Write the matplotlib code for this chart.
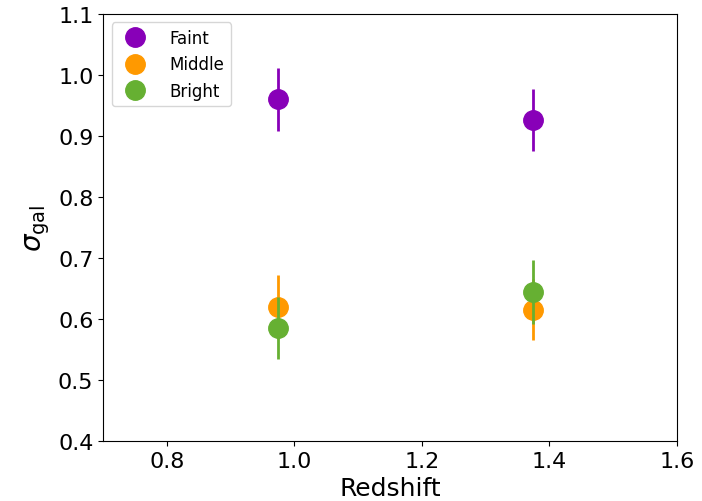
import matplotlib
matplotlib.use("Agg")
import matplotlib.pyplot as plt

redshift = [0.975, 1.375]
faint = [0.96, 0.926]
faint_err = [0.051, 0.051]
middle = [0.62, 0.615]
middle_err = [0.052, 0.05]
bright = [0.585, 0.644]
bright_err = [0.051, 0.052]

series = [
    ("Faint", faint, faint_err, "#8800b8"),
    ("Middle", middle, middle_err, "#ff9900"),
    ("Bright", bright, bright_err, "#66b032"),
]

fig = plt.figure(figsize=(7.02, 5.02), dpi=100)
ax = fig.add_axes([0.147, 0.1195, 0.817, 0.8505])

for name, vals, errs, col in series:
    ax.errorbar(redshift, vals, yerr=errs, fmt="none", ecolor=col, elinewidth=2)
    ax.plot(redshift, vals, "o", color=col, markersize=14, label=name)

ax.set_xlim(0.7, 1.6)
ax.set_ylim(0.4, 1.1)
ax.set_xticks([0.8, 1.0, 1.2, 1.4, 1.6])
ax.set_yticks([0.4, 0.5, 0.6, 0.7, 0.8, 0.9, 1.0, 1.1])
ax.tick_params(labelsize=16)
ax.set_xlabel("Redshift", fontsize=18, labelpad=4)
ax.set_ylabel(r"$\sigma_{\mathrm{gal}}$", fontsize=20)
ax.legend(loc="upper left", fontsize=12, markerscale=1.0, handletextpad=1.1)

fig.savefig("out.png", dpi=100)
